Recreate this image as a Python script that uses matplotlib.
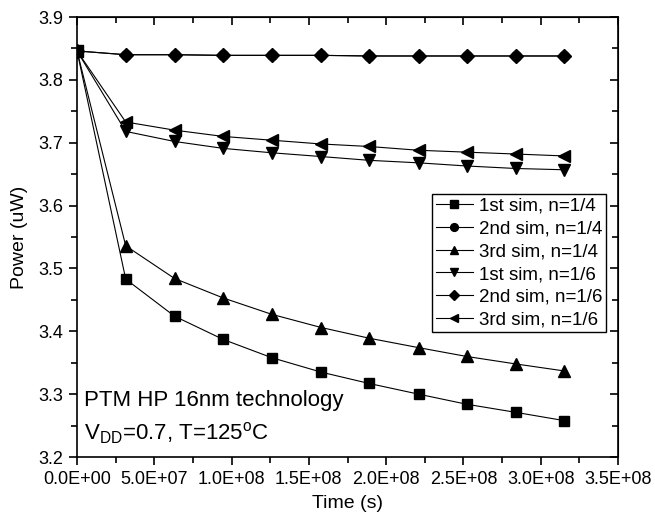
import matplotlib
matplotlib.use("Agg")
import matplotlib.pyplot as plt
from matplotlib.ticker import MultipleLocator, FuncFormatter

plt.rcParams["font.family"] = ["Liberation Sans", "DejaVu Sans"]
plt.rcParams["mathtext.fontset"] = "custom"
plt.rcParams["mathtext.rm"] = "Liberation Sans"

# time points (s)
time = [0.0, 3.15e7, 6.31e7, 9.46e7, 1.26e8, 1.58e8, 1.89e8, 2.21e8, 2.52e8, 2.84e8, 3.15e8]

# power (uW)
sim1_n4 = [3.846, 3.483, 3.424, 3.387, 3.358, 3.335, 3.317, 3.300, 3.284, 3.271, 3.258]
sim2_n4 = [3.846, 3.840, 3.840, 3.839, 3.839, 3.839, 3.838, 3.838, 3.838, 3.838, 3.838]
sim3_n4 = [3.846, 3.536, 3.484, 3.453, 3.427, 3.406, 3.389, 3.374, 3.360, 3.348, 3.337]
sim1_n6 = [3.846, 3.718, 3.702, 3.691, 3.684, 3.678, 3.672, 3.668, 3.663, 3.659, 3.657]
sim2_n6 = [3.846, 3.840, 3.840, 3.839, 3.839, 3.839, 3.838, 3.838, 3.838, 3.838, 3.838]
sim3_n6 = [3.846, 3.733, 3.720, 3.710, 3.704, 3.698, 3.694, 3.688, 3.685, 3.682, 3.679]

labels = ["1st sim, n=1/4", "2nd sim, n=1/4", "3rd sim, n=1/4",
          "1st sim, n=1/6", "2nd sim, n=1/6", "3rd sim, n=1/6"]
series = [sim1_n4, sim2_n4, sim3_n4, sim1_n6, sim2_n6, sim3_n6]
markers = ["s", "o", "^", "v", "D", "<"]
sizes = [7, 7, 8, 8, 7, 8]

fig = plt.figure(figsize=(6.55, 5.25), dpi=100)
ax = fig.add_axes([0.1176, 0.1295, 0.8259, 0.8381])

for y, lab, m, ms in zip(series, labels, markers, sizes):
    ax.plot(time, y, color="black", lw=0.8, marker=m, ms=ms, label=lab)

ax.set_xlim(0, 3.5e8)
ax.set_ylim(3.2, 3.9)
ax.xaxis.set_major_locator(MultipleLocator(5e7))
ax.xaxis.set_minor_locator(MultipleLocator(2.5e7))
ax.yaxis.set_major_locator(MultipleLocator(0.1))
ax.yaxis.set_minor_locator(MultipleLocator(0.05))
ax.xaxis.set_major_formatter(FuncFormatter(lambda v, p: f"{v:.1E}"))
ax.yaxis.set_major_formatter(FuncFormatter(lambda v, p: f"{v:.1f}"))
ax.tick_params(which="both", direction="out", labelsize=13, width=1.2)
ax.tick_params(which="major", length=6, pad=4)
ax.tick_params(which="minor", length=4)
for s in ax.spines.values():
    s.set_linewidth(1.2)

# mirrored ticks on top/right pointing inward
axt = ax.secondary_xaxis("top")
axt.xaxis.set_major_locator(MultipleLocator(5e7))
axt.xaxis.set_minor_locator(MultipleLocator(2.5e7))
axt.tick_params(which="both", direction="in", labeltop=False, width=1.2)
axt.tick_params(which="major", length=6)
axt.tick_params(which="minor", length=4)
axr = ax.secondary_yaxis("right")
axr.yaxis.set_major_locator(MultipleLocator(0.1))
axr.yaxis.set_minor_locator(MultipleLocator(0.05))
axr.tick_params(which="both", direction="in", labelright=False, width=1.2)
axr.tick_params(which="major", length=6)
axr.tick_params(which="minor", length=4)

ax.set_xlabel("Time (s)", fontsize=14, labelpad=5)
ax.set_ylabel("Power (uW)", fontsize=14, labelpad=7)

ax.text(0.012, 0.115, "PTM HP 16nm technology", transform=ax.transAxes, fontsize=16)
ax.text(0.012, 0.04, r"V$_{\mathregular{DD}}$=0.7, T=125$^{\mathregular{o}}$C",
        transform=ax.transAxes, fontsize=16)

leg = ax.legend(loc="upper right", bbox_to_anchor=(0.978, 0.598), fontsize=13.5,
                frameon=True, fancybox=False, edgecolor="black", framealpha=1,
                handlelength=2.0, handletextpad=0.3, borderpad=0.2,
                labelspacing=0.3, borderaxespad=0, markerscale=0.8)
leg.get_frame().set_linewidth(1.0)

fig.savefig("out.png", dpi=100)
